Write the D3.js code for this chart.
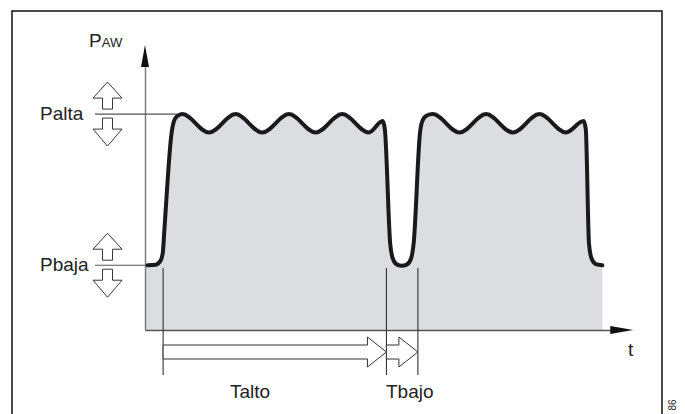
<!DOCTYPE html>
<html>
<head>
<meta charset="utf-8">
<script src="https://cdn.jsdelivr.net/npm/d3@7"></script>
<style>
  html, body { margin: 0; padding: 0; background: #fff; }
  svg { display: block; font-family: "Liberation Sans", Arial, Helvetica, sans-serif; }
</style>
</head>
<body>
<script>
// ---------- data (time units, pressure units) ----------
const curveT = [0.5, 2.0, 2.9, 3.35, 3.6, 5.0, 5.4, 6.0, 7, 12, 17, 22, 27, 32, 37, 42, 44.6, 45.0, 46.0, 46.5, 47.3, 48.2, 49.1, 49.9, 50.4, 51.6, 52.0, 52.8, 54, 59, 64, 69, 74, 79, 82.3, 82.7, 83.3, 83.8, 84.6, 85.8];
const curveP = [6.0, 6.05, 6.4, 7.2, 9.0, 18.3, 19.3, 19.8, 20, 18.3, 20, 18.3, 20, 18.3, 20, 18.3, 19.35, 18.6, 8.0, 6.6, 6.05, 5.95, 6.05, 6.6, 8.0, 18.3, 19.3, 19.85, 20, 18.3, 20, 18.3, 20, 18.3, 19.35, 18.6, 8.0, 6.6, 6.1, 6.0];
const levelNames = ["Palta", "Pbaja"];
const levelValues = [20, 6];
const levelLineEndT = [6.0, 0.5];
const phaseNames = ["Talto", "Tbajo"];
const phaseStart = [3.4, 45.3];
const phaseEnd = [45.3, 51.2];
const axisTitleY = ["P", "AW"];
const axisTitleX = "t";
const tAxisMax = 91.6;
const pAxisMax = 26.4;
const figId = "86";

// ---------- scales ----------
const x = d3.scaleLinear().domain([0, 100]).range([145, 678]);
const y = d3.scaleLinear().domain([0, pAxisMax]).range([330, 45]);

const svg = d3.select("body").append("svg").attr("width", 685).attr("height", 414);

// frame
svg.append("rect").attr("x", 12).attr("y", 11).attr("width", 650).attr("height", 420)
  .attr("fill", "none").attr("stroke", "#111").attr("stroke-width", 1.5);

// filled area under curve
const pts = curveT.map((t, i) => [t, curveP[i]]);
const areaPts = [[0, curveP[0]]].concat(pts);
svg.append("path").datum(areaPts)
  .attr("fill", "#dcdde0")
  .attr("d", d3.area().x(d => x(d[0])).y0(y(0)).y1(d => y(d[1])).curve(d3.curveMonotoneX));

// axes (no ticks)
const xAxisScale = x.copy().domain([0, tAxisMax - 4]).range([x(0), x(tAxisMax - 4)]);
const gx = svg.append("g").attr("transform", `translate(0,${y(0)})`)
  .call(d3.axisBottom(xAxisScale).tickValues([]).tickSizeOuter(0));
gx.select(".domain").attr("stroke", "#555").attr("stroke-width", 1.4);

const yAxisScale = y.copy().domain([0, pAxisMax - 2]).range([y(0), y(pAxisMax - 2)]);
const gy = svg.append("g").attr("transform", `translate(${x(0)},0)`)
  .call(d3.axisLeft(yAxisScale).tickValues([]).tickSizeOuter(0));
gy.select(".domain").attr("stroke", "#777").attr("stroke-width", 1.4);

// arrowheads
const yTip = y(pAxisMax), x0 = x(0);
svg.append("path").attr("d", `M${x0},${yTip} L${x0 - 4},${yTip + 22} L${x0 + 4},${yTip + 22} Z`).attr("fill", "#111");
const xTip = x(tAxisMax), y0 = y(0);
svg.append("path").attr("d", `M${xTip},${y0} L${xTip - 23},${y0 - 4} L${xTip - 23},${y0 + 4} Z`).attr("fill", "#111");

// level lines + hollow up/down arrows + labels
levelValues.forEach((v, i) => {
  const yy = y(v);
  svg.append("line").attr("x1", 95).attr("x2", x(levelLineEndT[i])).attr("y1", yy).attr("y2", yy)
    .attr("stroke", "#555").attr("stroke-width", 1.2);
  const cx = 107.5, hw = 14.5, sw = 5;
  const up = [[cx, yy - 32], [cx + hw, yy - 16], [cx + sw, yy - 16], [cx + sw, yy - 5], [cx - sw, yy - 5], [cx - sw, yy - 16], [cx - hw, yy - 16]];
  const dn = [[cx, yy + 32], [cx + hw, yy + 15], [cx + sw, yy + 15], [cx + sw, yy + 4], [cx - sw, yy + 4], [cx - sw, yy + 15], [cx - hw, yy + 15]];
  [up, dn].forEach(p => svg.append("polygon").attr("points", p.map(q => q.join(",")).join(" "))
    .attr("fill", "#fff").attr("stroke", "#222").attr("stroke-width", 0.9));
  svg.append("text").attr("x", 40).attr("y", yy + 5.5).attr("font-size", 19).attr("fill", "#222").text(levelNames[i]);
});

// main curve
svg.append("path").datum(pts)
  .attr("fill", "none").attr("stroke", "#1a1a1a").attr("stroke-width", 4)
  .attr("stroke-linejoin", "round").attr("stroke-linecap", "round")
  .attr("d", d3.line().x(d => x(d[0])).y(d => y(d[1])).curve(d3.curveMonotoneX));

// phase markers
const markT = [phaseStart[0], phaseStart[1], phaseEnd[1]];
markT.forEach((t, i) => {
  svg.append("line").attr("x1", x(t)).attr("x2", x(t)).attr("y1", i === 2 ? 268 : 268).attr("y2", 375)
    .attr("stroke", "#333").attr("stroke-width", 1.1);
});
const ay = 352;
phaseNames.forEach((name, i) => {
  const xs = x(phaseStart[i]), xe = x(phaseEnd[i]);
  const hb = xe - 19;
  const p = [[xs, ay - 7], [hb, ay - 7], [hb, ay - 15], [xe, ay], [hb, ay + 15], [hb, ay + 7], [xs, ay + 7]];
  svg.append("polygon").attr("points", p.map(q => q.join(",")).join(" "))
    .attr("fill", "#fff").attr("stroke", "#333").attr("stroke-width", 1);
});
svg.append("text").attr("x", 230).attr("y", 398).attr("font-size", 19).attr("fill", "#222").text(phaseNames[0]);
svg.append("text").attr("x", 386).attr("y", 398).attr("font-size", 19).attr("fill", "#222").text(phaseNames[1]);

// axis titles
const ty = svg.append("text").attr("x", 89).attr("y", 46.5).attr("fill", "#222");
ty.append("tspan").attr("font-size", 19).text(axisTitleY[0]);
ty.append("tspan").attr("font-size", 13).text(axisTitleY[1]);
svg.append("text").attr("x", 628).attr("y", 356).attr("font-size", 19).attr("fill", "#222").text(axisTitleX);

// figure id (rotated)
svg.append("text").attr("transform", "translate(676,405) rotate(-90)")
  .attr("text-anchor", "middle").attr("font-size", 10).attr("fill", "#222").text(figId);
</script>
</body>
</html>
